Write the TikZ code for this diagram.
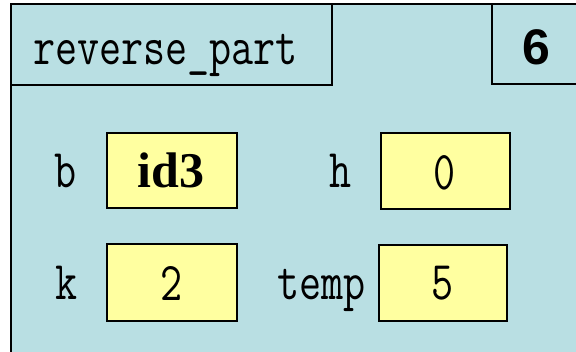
\documentclass[tikz,border=0pt]{standalone}
\usepackage{fontspec}
\newfontfamily\timesfont{Liberation Serif}
\newfontfamily\helvfont{Liberation Sans}
\definecolor{framebg}{RGB}{185,223,227}
\definecolor{boxfill}{RGB}{255,255,160}
\tikzset{
  frameline/.style={draw=black, line width=2.2pt},
  valbox/.style={draw=black, line width=2.2pt, fill=boxfill},
  tt/.style={inner sep=0pt, font=\fontsize{42}{42}\selectfont\ttfamily},
  lbl/.style={tt, anchor=base east},
  val/.style={tt, anchor=base},
}
\newcommand{\tallt}[1]{\scalebox{1.02}[1.3]{#1}}
\begin{document}
\begin{tikzpicture}[x=1pt,y=-1pt]
\useasboundingbox (0,0) rectangle (576,352);
\begin{scope}
\clip (0,0) rectangle (576,352);
\path[frameline, fill=framebg] (11,4) rectangle (600,380);
\path[frameline] (11,4) rectangle (332,85);
\path[frameline] (492,4) rectangle (600,84);
\node[tt, anchor=base west] (title) at (33,65) {\tallt{reverse\_part}};
\node[inner sep=0pt, anchor=base, font=\fontsize{50}{50}\selectfont\helvfont\bfseries] (num) at (536,65) {6};

\path[valbox] (107,133) rectangle (237,208);
\path[valbox] (381,133) rectangle (510,209);
\path[valbox] (107,244) rectangle (237,321);
\path[valbox] (379,245) rectangle (507,321);

\node[lbl] (lb) at (77,188) {\tallt{b}};
\node[lbl] (lh) at (352,188) {\tallt{h}};
\node[lbl] (lk) at (78,300) {\tallt{k}};
\node[lbl] (lt) at (366,300) {\tallt{temp}};

\node[inner sep=0pt, anchor=base, font=\fontsize{50}{50}\selectfont\timesfont\bfseries] (vb) at (171,188) {id3};
\node[val] (vh) at (445,190) {\tallt{0}};
\node[val] (vk) at (172,301) {\tallt{2}};
\node[val] (vt) at (443,300) {\tallt{5}};
\end{scope}
\end{tikzpicture}
\end{document}
